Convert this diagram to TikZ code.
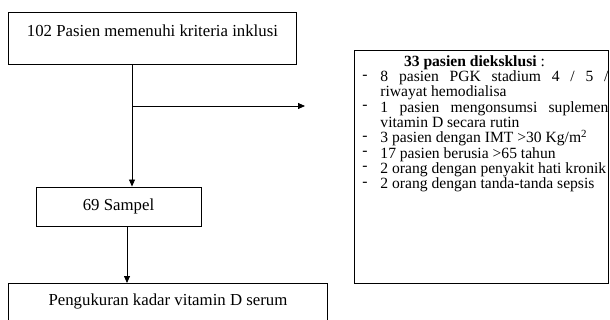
\documentclass[tikz,border=0pt]{standalone}
\usepackage{fontspec}
\setmainfont{Liberation Serif}
\usetikzlibrary{arrows.meta,positioning,calc}
\tikzset{
  kotak/.style={draw,line width=0.9pt,inner sep=0pt,align=center,font=\fontsize{16.8}{18}\selectfont},
  daftar/.style={draw,line width=0.9pt,inner sep=0pt,anchor=north west},
  panah/.style={-{Triangle[length=7pt,width=6pt]},line width=0.8pt},
}
\newcommand{\butir}{\par\noindent\llap{\raisebox{2.5pt}{-}\hspace{13pt}}}

\begin{document}
\begin{tikzpicture}[x=1pt,y=-1pt]
  \useasboundingbox (0,0) rectangle (610,320);
  \clip (0,0) rectangle (610,320);
  \node[kotak,anchor=north west,minimum width=288pt,minimum height=52pt,text height=18pt,text depth=22pt] (inklusi) at (8,12) {102 Pasien memenuhi kriteria inklusi};
  \node[kotak,minimum width=165pt,minimum height=39pt] (sampel) at (118.5,206.5) {69 Sampel};
  \node[kotak,anchor=north west,minimum width=319pt,minimum height=60pt,text height=22pt,text depth=38pt] (ukur) at (8,283) {Pengukuran kadar vitamin D serum};
  \node[daftar] (eksklusi) at (354,50) {\hspace{26pt}%
    \begin{minipage}[b][233pt][t]{228pt}
      \fontsize{15.6}{15.3}\selectfont
      \vspace*{5pt}
      {\centering\hspace*{-40pt}\textbf{33 pasien dieksklusi} :\par}
      \butir 8 pasien PGK stadium 4 / 5 /\linebreak riwayat hemodialisa
      \butir 1 pasien mengonsumsi suplemen\linebreak vitamin D secara rutin
      \butir 3 pasien dengan IMT >30 Kg/m\textsuperscript{2}
      \butir 17 pasien berusia >65 tahun
      \butir 2 orang dengan penyakit hati kronik
      \butir 2 orang dengan tanda-tanda sepsis
    \end{minipage}\hspace{16pt}};
  % cabang ke kotak eksklusi
  \coordinate (cabang) at (132,106);
  \coordinate (ujung) at (305,106);
  \coordinate (turun) at (127,250);
  \draw[panah] (inklusi.south -| cabang) -- (sampel.north -| cabang);
  \draw[panah] (cabang) -- (ujung);
  \draw[panah] (sampel.south -| turun) -- (ukur.north -| turun);
\end{tikzpicture}
\end{document}
